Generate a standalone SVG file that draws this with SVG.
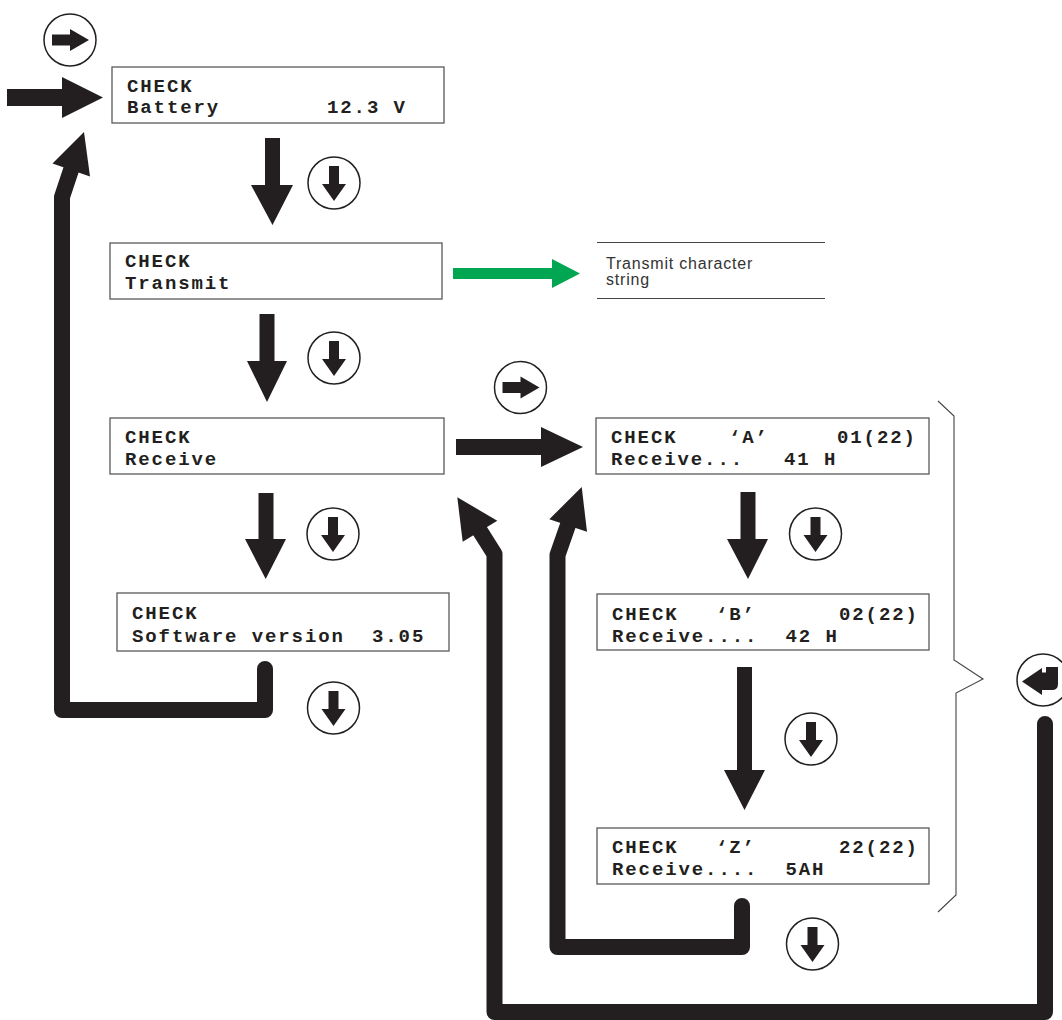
<svg xmlns="http://www.w3.org/2000/svg" width="1062" height="1020" viewBox="0 0 1062 1020">
<style>
.box{fill:#fff;stroke:#58595b;stroke-width:1.3}
.t{font-family:"Liberation Mono","Courier New",monospace;font-weight:bold;font-size:19px;letter-spacing:1.9px;fill:#231f20}
.s{font-family:"Liberation Sans",Arial,sans-serif;font-size:16px;letter-spacing:0.8px;fill:#333}
.ar{fill:#231f20}
.ln{fill:none;stroke:#231f20;stroke-width:16;stroke-linejoin:round;stroke-linecap:round}
.ci{fill:#fff;stroke:#231f20;stroke-width:1.5}
.thin{fill:none;stroke:#444;stroke-width:1.1}
</style>
<defs>
<g id="icD"><circle class="ci" cx="0" cy="0" r="26"/><path class="ar" d="M-5,-17 H5 V1 H12 L0,18 L-12,1 H-5 Z"/></g>
<g id="icR"><circle class="ci" cx="0" cy="0" r="26"/><path class="ar" d="M-18,-5.5 H0 V-11 L19,0 L0,11 V5.5 H-18 Z"/></g>
</defs>
<rect width="1062" height="1020" fill="#fff"/>

<g id="connectors">
<path class="ln" d="M265,669 L265,710 L62,710 L62,197 L71,170" stroke-linecap="round"/>
<polygon class="ar" points="84,132 90,176.5 52.5,163.5"/>
<path class="ln" d="M742,906 L742,947 L557.5,947 L557.5,555 L568,525"/>
<polygon class="ar" points="581.7,487 587,531.7 549.3,519.3"/>
<path class="ln" d="M1045,724 L1045,1012 L494.5,1012 L494.5,554 L480,531"/>
<polygon class="ar" points="457.3,497.3 497.3,520.7 462.7,541.7"/>
<path class="ar" d="M7,89 H62 V77 L103,97.5 L62,118 V106 H7 Z"/>
<path class="ar" d="M265,138 H280 V185 H293 L272.5,225 L251,185 H265 Z"/>
<path class="ar" d="M259.5,314 H274.5 V361 H287 L267,402 L247,361 H259.5 Z"/>
<path class="ar" d="M258.5,493 H273.5 V539 H286 L265.7,579 L245,539 H258.5 Z"/>
<path class="ar" d="M740.5,492 H755.5 V539 H768 L748,579 L727,539 H740.5 Z"/>
<path class="ar" d="M737,667 H752 V770 H765 L744.5,810 L724,770 H737 Z"/>
<path class="ar" d="M456,439 H541 V427 L583,447 L541,467 V455 H456 Z"/>
<path d="M453,268 H552 V259 L580,273.5 L552,288 V279 H453 Z" fill="#00a651"/>
</g>

<g id="icons">
<use href="#icR" x="70" y="40"/>
<use href="#icD" x="334" y="183"/>
<use href="#icD" x="334" y="358"/>
<use href="#icR" x="520.5" y="387.5"/>
<use href="#icD" x="333" y="534"/>
<use href="#icD" x="333.5" y="708"/>
<use href="#icD" x="815.5" y="534"/>
<use href="#icD" x="811" y="739"/>
<use href="#icD" x="812.5" y="944"/>
<g id="enter"><circle class="ci" cx="1043" cy="680" r="26"/><path class="ar" d="M1022,681.5 L1042,668 V672.5 H1046 V667 H1058 V684 Q1058,690 1052,690 H1042 V695 Z"/></g>
</g>

<g id="battery"><rect class="box" x="112" y="67" width="332" height="56"/>
<text class="t" x="127" y="92">CHECK</text><text class="t" y="113"><tspan x="127">Battery</tspan><tspan x="327">12.3 V</tspan></text></g>

<g id="transmit"><rect class="box" x="110" y="243" width="332" height="56"/>
<text class="t" x="125" y="267">CHECK</text><text class="t" x="125" y="289">Transmit</text></g>

<g id="transmit-note">
<line class="thin" x1="597" y1="242.5" x2="825" y2="242.5"/><line class="thin" x1="597" y1="298.5" x2="825" y2="298.5"/>
<text class="s" x="606" y="269">Transmit character</text><text class="s" x="606" y="285">string</text></g>

<g id="receive"><rect class="box" x="110" y="418" width="334" height="56"/>
<text class="t" x="125" y="443">CHECK</text><text class="t" x="125" y="465">Receive</text></g>

<g id="software"><rect class="box" x="117" y="593" width="332" height="58"/>
<text class="t" x="132" y="619">CHECK</text><text class="t" y="641.5"><tspan x="132">Software version</tspan><tspan x="372">3.05</tspan></text></g>

<g id="recA"><rect class="box" x="596" y="418" width="333" height="56"/>
<text class="t" y="443"><tspan x="611">CHECK</tspan><tspan x="729">‘A’</tspan><tspan x="837">01(22)</tspan></text>
<text class="t" y="465"><tspan x="611">Receive...</tspan><tspan x="784">41 H</tspan></text></g>

<g id="recB"><rect class="box" x="597" y="594" width="332" height="56"/>
<text class="t" y="620"><tspan x="612">CHECK</tspan><tspan x="716">‘B’</tspan><tspan x="839">02(22)</tspan></text>
<text class="t" y="641.5"><tspan x="612">Receive....</tspan><tspan x="785.5">42 H</tspan></text></g>

<g id="recZ"><rect class="box" x="597" y="828" width="332" height="56"/>
<text class="t" y="853"><tspan x="612">CHECK</tspan><tspan x="716">‘Z’</tspan><tspan x="839">22(22)</tspan></text>
<text class="t" y="875"><tspan x="612">Receive....</tspan><tspan x="785.5">5AH</tspan></text></g>

<g id="bracket"><path class="thin" d="M938,401 L954,416 L954,660 L983,679 L956,693 L956,895 L938,912"/></g>
</svg>
